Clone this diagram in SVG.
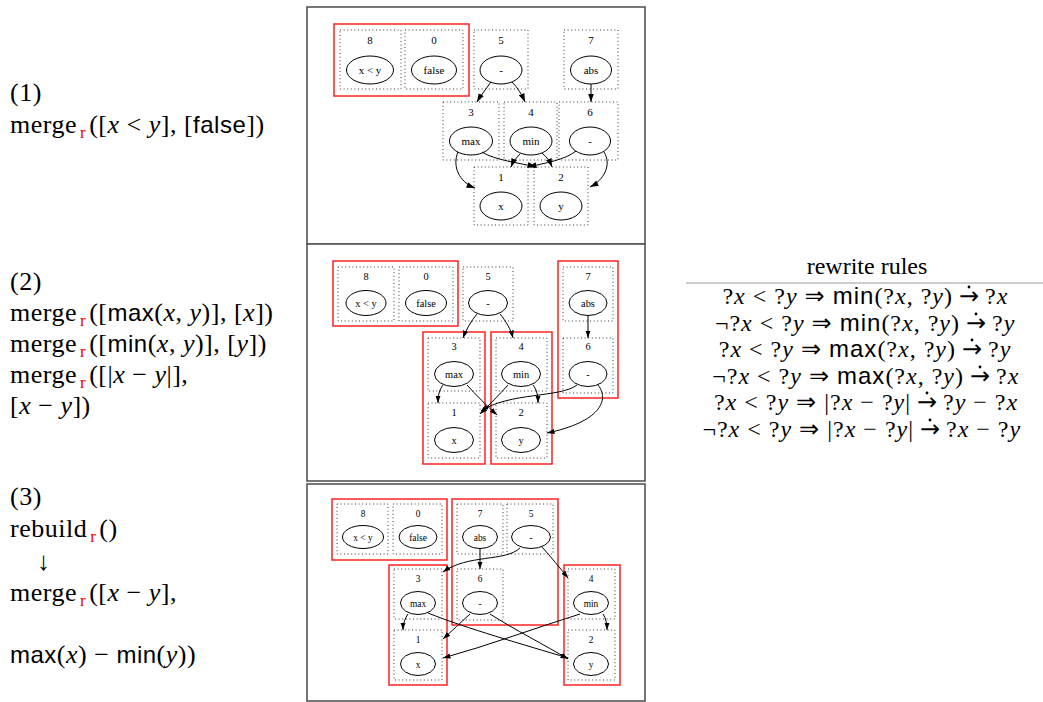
<svg xmlns="http://www.w3.org/2000/svg" width="1043" height="702" viewBox="0 0 1043 702">
<defs>
<style>
.frame{fill:#fff;stroke:#555;stroke-width:1.6}
.cl{fill:none;stroke:#222;stroke-width:0.9;stroke-dasharray:1 2.6}
.grp{fill:none;stroke:#f22;stroke-width:1.5}
.nd{fill:none;stroke:#000;stroke-width:1}
.e{fill:none;stroke:#000;stroke-width:1}
.e1{marker-end:url(#ah1)}
.e2{marker-end:url(#ah2)}
.t1{font-family:"Liberation Serif",serif;font-size:11px;text-anchor:middle;fill:#000}
.t2{font-family:"Liberation Serif",serif;font-size:10.4px;text-anchor:middle;fill:#000}
.t3{font-family:"Liberation Serif",serif;font-size:9.4px;text-anchor:middle;fill:#000}
.lt{font-family:"Liberation Serif",serif;font-size:26px;letter-spacing:0.5px;fill:#000}
.rt{font-family:"Liberation Serif","DejaVu Serif",serif;font-size:24px;fill:#000}
.rr{letter-spacing:1px}
.ra{text-anchor:end}
.rb{text-anchor:start}
.rc{text-anchor:middle}
.it{font-style:italic}
.sf{font-family:"Liberation Sans",sans-serif;font-size:24px}
.ar{font-family:"DejaVu Sans",sans-serif}
.sub{font-size:17px;fill:#e00}
</style>
<marker id="ah1" viewBox="0 0 10 7" refX="10" refY="3.5" markerWidth="8.5" markerHeight="6" orient="auto" markerUnits="userSpaceOnUse"><path d="M0,0 L10,3.5 L0,7 z" fill="#000"/></marker>
<marker id="ah2" viewBox="0 0 10 7" refX="10" refY="3.5" markerWidth="7.5" markerHeight="5.3" orient="auto" markerUnits="userSpaceOnUse"><path d="M0,0 L10,3.5 L0,7 z" fill="#000"/></marker>
</defs>
<rect width="1043" height="702" fill="#fff"/>

<!-- step descriptions -->
<g id="steps" class="lt">
<text x="10" y="101">(1)</text>
<text x="10" y="133">merge<tspan class="sub" dx="3" dy="5">r</tspan><tspan dx="3" dy="-5">([</tspan><tspan class="it">x</tspan> &lt; <tspan class="it">y</tspan>], [<tspan class="sf">false</tspan>])</text>

<text x="10" y="290">(2)</text>
<text x="10" y="321">merge<tspan class="sub" dx="3" dy="5">r</tspan><tspan dx="3" dy="-5">([</tspan><tspan class="sf">max</tspan>(<tspan class="it">x</tspan>, <tspan class="it">y</tspan>)], [<tspan class="it">x</tspan>])</text>
<text x="10" y="352">merge<tspan class="sub" dx="3" dy="5">r</tspan><tspan dx="3" dy="-5">([</tspan><tspan class="sf">min</tspan>(<tspan class="it">x</tspan>, <tspan class="it">y</tspan>)], [<tspan class="it">y</tspan>])</text>
<text x="10" y="383">merge<tspan class="sub" dx="3" dy="5">r</tspan><tspan dx="3" dy="-5">([|</tspan><tspan class="it">x</tspan> − <tspan class="it">y</tspan>|],</text>
<text x="10" y="414">[<tspan class="it">x</tspan> − <tspan class="it">y</tspan>])</text>

<text x="10" y="505">(3)</text>
<text x="10" y="537">rebuild<tspan class="sub" dx="3" dy="5">r</tspan><tspan dx="3" dy="-5">()</tspan></text>
<text x="37" y="570">↓</text>
<text x="10" y="601">merge<tspan class="sub" dx="3" dy="5">r</tspan><tspan dx="3" dy="-5">([</tspan><tspan class="it">x</tspan> − <tspan class="it">y</tspan>],</text>
<text x="10" y="663"><tspan class="sf">max</tspan>(<tspan class="it">x</tspan>) − <tspan class="sf">min</tspan>(<tspan class="it">y</tspan>))</text>
</g>

<!-- rewrite rules table: each rule = condition/lhs, dotted arrow, rhs -->
<g id="rules" class="rt">
<text class="rc" x="867" y="274">rewrite rules</text>
<line x1="686" y1="283" x2="1043" y2="283" stroke="#999" stroke-width="1"/>

<text class="rr ra" x="953" y="304">?<tspan class="it">x</tspan> &lt; ?<tspan class="it">y</tspan> <tspan class="ar">⇒</tspan> <tspan class="sf">min</tspan>(?<tspan class="it">x</tspan>, ?<tspan class="it">y</tspan>)</text>
<text class="ar rc" x="969" y="304">→</text><circle cx="969" cy="287" r="1.4"/>
<text class="rr rb" x="985" y="304">?<tspan class="it">x</tspan></text>

<text class="rr ra" x="960" y="331">¬?<tspan class="it">x</tspan> &lt; ?<tspan class="it">y</tspan> <tspan class="ar">⇒</tspan> <tspan class="sf">min</tspan>(?<tspan class="it">x</tspan>, ?<tspan class="it">y</tspan>)</text>
<text class="ar rc" x="976" y="331">→</text><circle cx="976" cy="314" r="1.4"/>
<text class="rr rb" x="992" y="331">?<tspan class="it">y</tspan></text>

<text class="rr ra" x="956" y="357">?<tspan class="it">x</tspan> &lt; ?<tspan class="it">y</tspan> <tspan class="ar">⇒</tspan> <tspan class="sf">max</tspan>(?<tspan class="it">x</tspan>, ?<tspan class="it">y</tspan>)</text>
<text class="ar rc" x="972" y="357">→</text><circle cx="972" cy="340" r="1.4"/>
<text class="rr rb" x="988" y="357">?<tspan class="it">y</tspan></text>

<text class="rr ra" x="964" y="384">¬?<tspan class="it">x</tspan> &lt; ?<tspan class="it">y</tspan> <tspan class="ar">⇒</tspan> <tspan class="sf">max</tspan>(?<tspan class="it">x</tspan>, ?<tspan class="it">y</tspan>)</text>
<text class="ar rc" x="980" y="384">→</text><circle cx="980" cy="367" r="1.4"/>
<text class="rr rb" x="996" y="384">?<tspan class="it">x</tspan></text>

<text class="rr ra" x="911" y="410">?<tspan class="it">x</tspan> &lt; ?<tspan class="it">y</tspan> <tspan class="ar">⇒</tspan> |?<tspan class="it">x</tspan> − ?<tspan class="it">y</tspan>|</text>
<text class="ar rc" x="927" y="410">→</text><circle cx="927" cy="393" r="1.4"/>
<text class="rr rb" x="943" y="410">?<tspan class="it">y</tspan> − ?<tspan class="it">x</tspan></text>

<text class="rr ra" x="914" y="437">¬?<tspan class="it">x</tspan> &lt; ?<tspan class="it">y</tspan> <tspan class="ar">⇒</tspan> |?<tspan class="it">x</tspan> − ?<tspan class="it">y</tspan>|</text>
<text class="ar rc" x="930" y="437">→</text><circle cx="930" cy="420" r="1.4"/>
<text class="rr rb" x="946" y="437">?<tspan class="it">x</tspan> − ?<tspan class="it">y</tspan></text>
</g>

<!-- panel frames -->
<g id="frames">
<rect class="frame" x="307" y="7" width="338" height="237"/>
<rect class="frame" x="307" y="244" width="338" height="237"/>
<rect class="frame" x="307" y="484" width="338" height="217"/>
</g>

<!-- ===== panel 1 ===== -->
<g id="p1-groups"><rect class="grp" x="334" y="24" width="135" height="72"/></g>
<g id="p1-n8"><rect class="cl" x="340" y="30" width="61" height="59"/><text class="t1" x="370" y="44">8</text><ellipse class="nd" cx="370" cy="70" rx="23.5" ry="14"/><text class="t1" x="370" y="74">x &lt; y</text></g>
<g id="p1-n0"><rect class="cl" x="405" y="30" width="58" height="59"/><text class="t1" x="434" y="44">0</text><ellipse class="nd" cx="434" cy="70" rx="22.5" ry="14"/><text class="t1" x="434" y="74">false</text></g>
<g id="p1-n5"><rect class="cl" x="474" y="30" width="54" height="59"/><text class="t1" x="501" y="44">5</text><ellipse class="nd" cx="501" cy="70" rx="21" ry="14"/><text class="t1" x="501" y="74">-</text></g>
<g id="p1-n7"><rect class="cl" x="564" y="30" width="54" height="59"/><text class="t1" x="591" y="44">7</text><ellipse class="nd" cx="591" cy="70" rx="20.5" ry="14"/><text class="t1" x="591" y="74">abs</text></g>
<g id="p1-n3"><rect class="cl" x="443" y="102" width="56" height="58"/><text class="t1" x="471" y="116">3</text><ellipse class="nd" cx="471" cy="141" rx="21.5" ry="14"/><text class="t1" x="471" y="145">max</text></g>
<g id="p1-n4"><rect class="cl" x="504" y="102" width="53" height="58"/><text class="t1" x="531" y="116">4</text><ellipse class="nd" cx="531" cy="141" rx="21" ry="14"/><text class="t1" x="531" y="145">min</text></g>
<g id="p1-n6"><rect class="cl" x="559" y="102" width="59" height="58"/><text class="t1" x="590" y="116">6</text><ellipse class="nd" cx="590" cy="141" rx="20.5" ry="14"/><text class="t1" x="590" y="145">-</text></g>
<g id="p1-n1"><rect class="cl" x="474" y="167" width="54" height="58"/><text class="t1" x="501" y="181">1</text><ellipse class="nd" cx="501" cy="206" rx="21" ry="14"/><text class="t1" x="501" y="210">x</text></g>
<g id="p1-n2"><rect class="cl" x="534" y="167" width="54" height="58"/><text class="t1" x="561" y="181">2</text><ellipse class="nd" cx="561" cy="206" rx="21" ry="14"/><text class="t1" x="561" y="210">y</text></g>
<g id="p1-edges" class="e e1">
<path d="M491,82 C486,89 481,95 477,102"/>
<path d="M512,82 C518,88 522,95 525,102"/>
<path d="M591,84 L591,102"/>
<path d="M458,152 C452,166 459,182 475,188"/>
<path d="M482,152 C494,160 520,163 536,167"/>
<path d="M520,154 C516,158 513,162 511,167"/>
<path d="M542,153 C547,157 550,162 552,167"/>
<path d="M576,151 C565,160 545,163 528,167"/>
<path d="M604,152 C612,165 604,180 590,187"/>
</g>

<!-- ===== panel 2 ===== -->
<g id="p2-groups">
<rect class="grp" x="333" y="261" width="125" height="65"/>
<rect class="grp" x="558" y="261" width="60" height="137"/>
<rect class="grp" x="423" y="332" width="62" height="132"/>
<rect class="grp" x="491" y="332" width="61" height="132"/>
</g>
<g id="p2-n8"><rect class="cl" x="338" y="267" width="56" height="54"/><text class="t2" x="366" y="280">8</text><ellipse class="nd" cx="366" cy="303" rx="20" ry="12.5"/><text class="t2" x="366" y="306.5">x &lt; y</text></g>
<g id="p2-n0"><rect class="cl" x="399" y="267" width="54" height="54"/><text class="t2" x="426" y="280">0</text><ellipse class="nd" cx="426" cy="303" rx="20.5" ry="12.5"/><text class="t2" x="426" y="306.5">false</text></g>
<g id="p2-n5"><rect class="cl" x="463" y="267" width="50" height="54"/><text class="t2" x="488" y="280">5</text><ellipse class="nd" cx="488" cy="303" rx="19.5" ry="12.5"/><text class="t2" x="488" y="306.5">-</text></g>
<g id="p2-n7"><rect class="cl" x="563" y="267" width="50" height="54"/><text class="t2" x="588" y="280">7</text><ellipse class="nd" cx="588" cy="303" rx="19" ry="12.5"/><text class="t2" x="588" y="306.5">abs</text></g>
<g id="p2-n6"><rect class="cl" x="563" y="338" width="50" height="55"/><text class="t2" x="588" y="350">6</text><ellipse class="nd" cx="588" cy="374" rx="19" ry="12.5"/><text class="t2" x="588" y="377.5">-</text></g>
<g id="p2-n3"><rect class="cl" x="428" y="338" width="52" height="53"/><text class="t2" x="454" y="350">3</text><ellipse class="nd" cx="454" cy="374" rx="19.5" ry="12.5"/><text class="t2" x="454" y="377.5">max</text></g>
<g id="p2-n4"><rect class="cl" x="496" y="338" width="51" height="53"/><text class="t2" x="521" y="350">4</text><ellipse class="nd" cx="521" cy="374" rx="19.5" ry="12.5"/><text class="t2" x="521" y="377.5">min</text></g>
<g id="p2-n1"><rect class="cl" x="428" y="403" width="52" height="55"/><text class="t2" x="454" y="416">1</text><ellipse class="nd" cx="454" cy="440" rx="19.5" ry="12.5"/><text class="t2" x="454" y="443.5">x</text></g>
<g id="p2-n2"><rect class="cl" x="496" y="403" width="51" height="55"/><text class="t2" x="521" y="416">2</text><ellipse class="nd" cx="521" cy="440" rx="19.5" ry="12.5"/><text class="t2" x="521" y="443.5">y</text></g>
<g id="p2-edges" class="e e2">
<path d="M477,314 C471,321 466,330 463,338"/>
<path d="M500,314 C506,321 511,330 513,338"/>
<path d="M588,315.5 L588,338"/>
<path d="M443,385 C439,390 438,396 438,403"/>
<path d="M467,385 C476,395 487,406 497,415"/>
<path d="M508,385 C499,395 489,405 480,414"/>
<path d="M533,385 C537,390 538,396 538,403"/>
<path d="M577,385 C560,398 510,392 481,411"/>
<path d="M598,385 C610,400 600,422 547,433"/>
</g>

<!-- ===== panel 3 ===== -->
<g id="p3-groups">
<rect class="grp" x="332" y="499" width="115" height="61"/>
<rect class="grp" x="452" y="499" width="106" height="126"/>
<rect class="grp" x="389" y="565" width="58" height="120"/>
<rect class="grp" x="564" y="565" width="56" height="120"/>
</g>
<g id="p3-n8"><rect class="cl" x="337" y="504" width="51" height="50"/><text class="t3" x="363" y="517">8</text><ellipse class="nd" cx="363" cy="537" rx="20.5" ry="11.5"/><text class="t3" x="363" y="540.5">x &lt; y</text></g>
<g id="p3-n0"><rect class="cl" x="393" y="504" width="49" height="50"/><text class="t3" x="418" y="517">0</text><ellipse class="nd" cx="418" cy="537" rx="19" ry="11.5"/><text class="t3" x="418" y="540.5">false</text></g>
<g id="p3-n7"><rect class="cl" x="457" y="504" width="46" height="50"/><text class="t3" x="480" y="517">7</text><ellipse class="nd" cx="480" cy="537" rx="17.5" ry="11.5"/><text class="t3" x="480" y="540.5">abs</text></g>
<g id="p3-n5"><rect class="cl" x="507" y="504" width="46" height="50"/><text class="t3" x="531" y="517">5</text><ellipse class="nd" cx="531" cy="537" rx="19.5" ry="11.5"/><text class="t3" x="531" y="540.5">-</text></g>
<g id="p3-n6"><rect class="cl" x="457" y="569" width="46" height="51"/><text class="t3" x="480" y="582">6</text><ellipse class="nd" cx="480" cy="603" rx="17.5" ry="11.5"/><text class="t3" x="480" y="606.5">-</text></g>
<g id="p3-n3"><rect class="cl" x="394" y="569" width="48" height="50"/><text class="t3" x="418" y="582">3</text><ellipse class="nd" cx="418" cy="603" rx="17.5" ry="11.5"/><text class="t3" x="418" y="606.5">max</text></g>
<g id="p3-n1"><rect class="cl" x="394" y="630" width="48" height="50"/><text class="t3" x="418" y="643">1</text><ellipse class="nd" cx="418" cy="664" rx="17.5" ry="11.5"/><text class="t3" x="418" y="667.5">x</text></g>
<g id="p3-n4"><rect class="cl" x="568" y="569" width="47" height="50"/><text class="t3" x="591" y="582">4</text><ellipse class="nd" cx="591" cy="603" rx="17.5" ry="11.5"/><text class="t3" x="591" y="606.5">min</text></g>
<g id="p3-n2"><rect class="cl" x="568" y="630" width="47" height="50"/><text class="t3" x="591" y="643">2</text><ellipse class="nd" cx="591" cy="664" rx="17.5" ry="11.5"/><text class="t3" x="591" y="667.5">y</text></g>
<g id="p3-edges" class="e e2">
<path d="M520,548 C505,562 468,554 443,572"/>
<path d="M542,547 C551,557 560,568 568,578"/>
<path d="M480,548.5 L480,569"/>
<path d="M408,614 C405,618 403,624 403,630"/>
<path d="M428,613 C465,628 525,645 568,658"/>
<path d="M470,614 C461,622 452,631 443,639"/>
<path d="M490,614 C515,630 545,645 568,659"/>
<path d="M580,614 C535,628 490,645 443,658"/>
<path d="M603,614 C606,618 607,624 607,630"/>
</g>
</svg>
